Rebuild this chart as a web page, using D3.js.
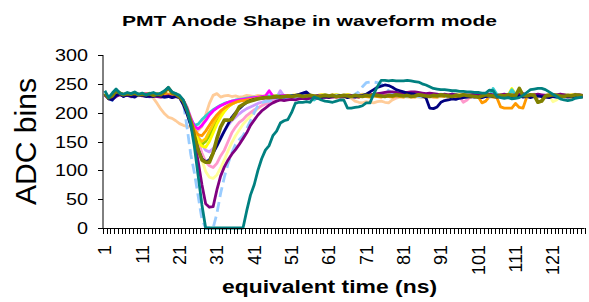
<!DOCTYPE html>
<html>
<head>
<meta charset="utf-8">
<script src="https://cdn.jsdelivr.net/npm/d3@7"></script>
<style>
body{margin:0;background:#fff;}
#anode-vis{width:589px;height:302px;}
text{font-family:Arial,"Liberation Sans",sans-serif;fill:#000;}
</style>
</head>
<body>
<div id="anode-vis"></div>
<script>
// time bins 1..129 on a category axis
var timeBins = d3.range(1, 130);
var xTickLabels = [1, 11, 21, 31, 41, 51, 61, 71, 81, 91, 101, 111, 121];
var yTicks = [0, 50, 100, 150, 200, 250, 300];

var peachTrace = [232,224,229,238,234,231,233,232,234,231,
 232,230,231,225,216,206,198,192,190,186,
 181,178,176,175,172,169,176,196,216,230,
 233,227,229,230,228,229,227,228,230,229,
 228,230,229,227,228,230,229,228,227,229,
 230,229,228,230,229,227,226,228,229,227,
 228,229,227,228,226,227,225,220,218,217,
 219,218,217,219,220,218,217,222,225,227,
 228,227,226,228,227,226,227,228,226,227,
 228,229,228,227,228,229,230,228,229,230,
 229,228,230,229,228,230,229,228,229,230,
 228,229,230,229,228,230,229,228,230,229,
 228,229,230,228,229,230,229,228,229];

var lightYellowTrace = [233,226,228,237,234,230,232,231,233,230,
 231,232,230,231,229,232,233,230,231,230,
 228,222,210,190,168,145,118,98,88,86,
 92,104,118,134,148,160,170,180,187,194,
 201,207,212,216,219,221,223,224,225,226,
 227,228,227,229,228,229,230,228,229,230,
 229,230,228,229,231,230,229,228,230,231,
 230,229,231,230,229,231,230,229,228,230,
 231,230,229,231,230,229,230,231,229,230,
 231,230,229,231,230,229,230,231,230,229,
 230,231,229,230,231,230,229,230,231,230,
 229,231,230,229,230,231,230,229,230,231,
 219,222,229,230,231,229,230,231,230];

var pinkTrace = [231,225,227,236,233,229,231,230,232,229,
 230,231,229,230,228,231,232,229,230,229,
 226,220,208,190,170,150,130,115,108,105,
 112,125,135,150,165,175,183,188,195,200,
 205,208,212,215,218,220,222,223,224,225,
 226,227,226,228,227,228,229,227,228,229,
 228,229,227,228,230,229,228,227,229,230,
 229,228,230,229,228,230,229,228,227,229,
 230,229,228,230,229,228,229,230,228,229,
 230,229,228,230,229,228,218,222,229,228,
 229,230,228,229,230,229,228,229,230,229,
 228,230,229,228,229,230,229,228,229,230,
 229,228,230,229,228,229,230,229,228];

var lavenderTrace = [232,226,228,236,233,230,232,231,233,230,
 231,230,232,229,231,230,233,231,230,231,
 227,222,210,192,175,160,145,135,132,138,
 148,158,168,178,186,192,198,203,207,210,
 213,216,218,220,222,224,226,238,229,226,
 227,228,229,227,228,229,230,228,229,230,
 229,230,228,229,230,231,229,230,231,232,
 231,230,232,231,230,232,231,230,229,231,
 232,231,230,232,231,230,231,232,230,231,
 232,231,230,232,231,230,231,232,231,230,
 231,232,230,231,232,231,230,231,232,231,
 230,232,231,230,231,232,231,230,231,232,
 231,230,232,231,230,231,232,231,230];

var limeTrace = [233,225,227,237,234,231,233,232,234,231,
 232,231,233,230,232,231,234,232,231,232,
 226,218,204,185,165,150,145,150,160,172,
 185,195,203,210,215,218,220,222,223,224,
 225,226,227,228,227,228,229,228,229,230,
 229,230,228,229,230,229,228,229,230,231,
 230,229,231,230,229,231,230,229,228,230,
 231,230,229,231,230,229,230,231,229,230,
 231,230,229,231,230,229,230,231,230,229,
 230,231,229,230,231,230,229,230,231,230,
 229,231,230,229,230,231,230,229,230,231,
 230,229,231,230,229,231,218,221,229,230,
 231,230,229,231,230,229,230,231,230];

var goldTrace = [231,224,228,238,233,230,232,231,233,231,
 230,232,231,229,232,230,233,231,232,230,
 227,220,206,188,170,156,150,155,168,180,
 192,200,207,212,216,219,221,222,224,225,
 226,227,228,227,228,229,228,229,230,229,
 230,229,230,228,229,230,229,230,231,230,
 229,231,230,229,230,231,230,229,230,231,
 230,229,231,230,229,231,230,229,230,231,
 230,229,231,230,229,231,230,229,230,231,
 230,229,231,230,229,231,230,229,230,231,
 230,229,231,230,229,231,230,229,230,231,
 230,229,231,230,229,231,230,229,230,231,
 230,229,231,230,229,231,230,229,230];

var yellowTrace = [232,225,229,239,234,231,233,232,234,232,
 231,233,232,230,233,231,234,232,233,231,
 228,221,207,188,168,150,142,140,150,165,
 180,192,202,210,215,218,221,223,224,225,
 226,227,228,229,228,229,230,229,230,229,
 230,231,229,230,231,230,229,230,231,230,
 229,230,231,230,229,231,230,229,230,231,
 230,231,229,230,231,230,229,230,231,230,
 229,230,231,230,229,231,230,229,230,231,
 230,229,231,230,229,231,230,229,230,231,
 230,229,231,230,229,231,230,229,230,242,
 232,229,231,230,229,231,230,229,230,231,
 230,229,231,230,229,231,230,229,230];

var cyanTrace = [232,226,229,237,233,231,232,231,233,230,
 231,232,230,231,229,232,233,230,231,230,
 227,220,205,188,178,180,188,194,200,205,
 209,213,216,218,220,222,223,224,225,226,
 227,226,228,227,229,228,229,230,229,228,
 230,229,228,230,229,228,222,226,229,230,
 229,228,230,229,228,230,229,228,230,229,
 228,230,229,228,230,229,228,230,229,228,
 230,229,228,230,229,228,230,229,228,230,
 229,228,230,229,228,230,229,228,230,229,
 228,230,229,228,242,232,229,230,229,240,
 231,229,230,229,228,230,229,228,230,229,
 228,230,229,228,230,229,228,230,229];

var magentaTrace = [231,225,228,237,233,230,232,231,233,230,
 231,233,231,230,232,231,234,231,232,231,
 227,221,208,190,176,172,178,186,196,203,
 208,212,215,218,220,221,222,223,224,225,
 226,227,228,229,238,229,228,229,230,229,
 228,230,229,228,230,229,228,230,229,228,
 230,229,228,230,229,228,230,229,228,230,
 229,228,230,229,228,230,229,228,230,229,
 228,230,229,228,230,229,228,230,229,228,
 230,229,228,230,229,228,230,229,228,230,
 229,228,230,229,228,230,229,228,230,229,
 228,230,229,228,230,229,228,230,229,228,
 230,229,228,230,229,228,230,229,228];

var orangeTrace = [232,225,228,237,233,231,232,231,233,231,
 232,230,232,231,230,232,233,231,232,230,
 227,219,204,186,170,162,160,168,178,188,
 196,203,208,212,215,218,220,221,222,223,
 224,225,226,227,226,227,228,227,228,229,
 228,229,228,227,229,228,227,229,228,227,
 229,228,227,229,228,227,229,228,227,229,
 228,227,229,228,227,229,228,227,229,228,
 227,229,228,227,229,228,227,229,228,227,
 229,228,227,229,228,227,229,228,227,229,
 228,217,220,228,227,226,210,208,208,208,
 216,209,208,227,229,228,227,229,228,227,
 229,228,227,229,228,227,229,228,227];

var lightBlueTrace = [231,225,221,229,232,228,230,227,228,230,
 228,229,227,228,229,228,226,228,227,228,
 226,218,175,128,95,55,15,0,0,0,
 25,60,88,112,130,145,153,160,172,186,
 200,212,217,219,220,222,223,224,225,224,
 225,226,227,226,228,227,229,228,227,228,
 229,228,230,228,229,230,229,232,236,245,
 252,253,253,252,250,244,238,234,232,230,
 229,228,230,229,228,227,229,228,230,229,
 228,227,229,228,230,229,228,227,229,228,
 230,229,228,227,229,228,230,229,228,227,
 229,228,230,229,228,227,229,228,230,229,
 228,227,229,228,230,229,228,227,229];

var purpleTrace = [230,226,223,228,231,229,230,228,229,232,
 229,229,228,229,228,227,228,229,227,228,
 227,220,205,180,150,115,75,42,36,37,
 66,90,106,118,128,136,145,155,165,178,
 187,196,203,208,213,217,220,222,221,222,
 223,222,224,225,224,225,226,225,226,227,
 226,227,228,227,228,229,230,228,227,229,
 230,231,232,233,234,235,236,236,235,234,
 234,235,236,236,235,234,233,234,233,232,
 231,232,231,232,231,230,231,230,231,232,
 231,230,231,232,231,230,231,232,231,230,
 231,232,233,231,230,231,232,231,230,229,
 230,231,232,231,230,229,230,231,230];

var navyTrace = [232,224,222,230,233,228,231,229,227,231,
 230,228,229,228,230,229,227,228,226,228,
 226,214,198,178,158,136,120,115,118,130,
 142,155,168,180,192,200,207,213,218,221,
 223,224,225,226,226,227,227,228,227,228,
 229,230,232,234,236,230,228,229,227,228,
 227,229,228,230,229,226,228,227,229,230,
 232,236,240,244,246,248,247,244,240,238,
 236,234,233,232,230,229,226,208,207,210,
 218,221,222,224,223,225,226,227,228,227,
 228,226,228,229,228,227,228,229,228,227,
 228,229,227,228,226,228,229,228,227,226,
 228,227,229,228,227,228,226,227,228];

var oliveTrace = [233,226,229,238,234,231,233,232,234,231,
 232,231,233,230,232,231,236,243,234,232,
 227,220,205,185,160,135,118,114,114,130,
 155,175,187,187,188,198,210,214,218,220,
 222,224,225,226,226,227,228,227,228,229,
 228,229,230,228,229,230,229,228,229,230,
 229,230,228,229,230,229,228,230,229,228,
 230,229,231,230,229,228,230,229,231,230,
 229,230,228,229,231,230,229,228,230,229,
 231,230,229,228,230,229,231,230,229,228,
 227,229,231,230,229,228,230,229,231,230,
 229,242,230,229,231,230,218,220,229,230,
 231,230,229,228,230,229,231,230,229];

var tealTrace = [238,226,234,241,234,232,235,233,236,232,
 234,231,233,235,232,234,238,244,236,233,
 230,222,205,180,140,90,40,0,0,0,
 0,0,0,0,0,0,0,0,30,57,
 75,100,120,135,143,160,168,182,186,188,
 200,216,218,218,219,218,227,225,222,220,
 219,218,220,222,222,208,208,209,210,212,
 217,217,232,245,256,256,255,256,255,255,
 255,256,255,254,253,250,248,245,242,241,
 240,240,239,238,238,237,237,236,236,235,
 235,234,234,239,238,228,226,225,226,224,
 225,226,230,235,240,241,242,242,240,236,
 232,228,224,222,221,222,225,226,227];

// drawing order = excel series order, last on top
var traces = [peachTrace, lightYellowTrace, pinkTrace, lavenderTrace, limeTrace, goldTrace,
  yellowTrace, cyanTrace, magentaTrace, orangeTrace, lightBlueTrace, purpleTrace, navyTrace,
  oliveTrace, tealTrace];
var traceColors = ["#FFCC99", "#FFFF99", "#FF99CC", "#CC99FF", "#99CC00", "#FFCC00",
  "#FFFF00", "#33CCCC", "#FF00FF", "#FF9900", "#99CCFF", "#800080", "#000080",
  "#808000", "#008080"];

AnodeVis = function(_parentElement, _traces) {
  this.traces = _traces;
  this.settings = {
    parentElement: _parentElement,
    plot: {left: 103, right: 584.6, top: 55, bottom: 228},
    tickLength: 5,
    lineWidth: 2.8
  };
  this.initVis();
}

AnodeVis.prototype.initVis = function() {
  var vis = this;
  var p = vis.settings.plot;

  vis.svg = d3.select("#" + vis.settings.parentElement).append("svg")
    .attr("width", 589)
    .attr("height", 302);

  vis.x = d3.scalePoint().domain(timeBins).range([p.left, p.right]).padding(0.5);
  vis.y = d3.scaleLinear().domain([0, 300]).range([p.bottom, p.top]);

  vis.glines = vis.svg.append("g");
  vis.gaxes = vis.svg.append("g");

  vis.svg.append("text")
    .attr("x", 122).attr("y", 26)
    .attr("textLength", 375).attr("lengthAdjust", "spacingAndGlyphs")
    .style("font-size", "15px").style("font-weight", "bold")
    .text("PMT Anode Shape in waveform mode");

  vis.svg.append("text")
    .attr("x", 222).attr("y", 293)
    .attr("textLength", 215).attr("lengthAdjust", "spacingAndGlyphs")
    .style("font-size", "18px").style("font-weight", "bold")
    .text("equivalent time (ns)");

  vis.svg.append("text")
    .attr("transform", "translate(36,141.5) rotate(-90)")
    .attr("text-anchor", "middle")
    .attr("textLength", 127).attr("lengthAdjust", "spacingAndGlyphs")
    .style("font-size", "29px")
    .text("ADC bins");

  vis.updateVis();
}

AnodeVis.prototype.updateVis = function() {
  var vis = this;
  var p = vis.settings.plot;
  var step = vis.x.step();

  var line = d3.line()
    .x(function(d, i) { return vis.x(timeBins[i]); })
    .y(function(d) { return vis.y(d); });

  vis.glines.selectAll(".trace").data(vis.traces).enter()
    .append("path").attr("class", "trace")
    .attr("d", line)
    .style("fill", "none")
    .style("stroke", function(d, i) { return traceColors[i]; })
    .style("stroke-width", function(d, i) { return traceColors[i] == "#808000" ? 3.6 : vis.settings.lineWidth; })
    .style("stroke-dasharray", function(d, i) { return traceColors[i] == "#99CCFF" ? "10,5" : null; })
    .style("stroke-linejoin", "round");

  // y axis
  vis.gaxes.append("line")
    .attr("x1", p.left).attr("x2", p.left).attr("y1", p.top).attr("y2", p.bottom)
    .style("stroke", "#000");
  vis.gaxes.selectAll(".ytick").data(yTicks).enter()
    .append("line").attr("class", "ytick")
    .attr("x1", p.left - vis.settings.tickLength).attr("x2", p.left)
    .attr("y1", function(d) { return Math.round(vis.y(d)) + 0.5; })
    .attr("y2", function(d) { return Math.round(vis.y(d)) + 0.5; })
    .style("stroke", "#000");
  vis.gaxes.selectAll(".ylabel").data(yTicks).enter()
    .append("text").attr("class", "ylabel")
    .attr("x", 88).attr("y", function(d) { return vis.y(d); })
    .attr("dy", "0.36em")
    .attr("text-anchor", "end")
    .attr("textLength", function(d) { return String(d).length * 11; })
    .attr("lengthAdjust", "spacingAndGlyphs")
    .style("font-size", "17px")
    .text(function(d) { return d; });

  // x axis, ticks between categories
  vis.gaxes.append("line")
    .attr("x1", p.left).attr("x2", p.right).attr("y1", p.bottom + 0.5).attr("y2", p.bottom + 0.5)
    .style("stroke", "#000");
  var edges = timeBins.map(function(t) { return vis.x(t) - step / 2; }).concat([p.right]);
  vis.gaxes.selectAll(".xtick").data(edges).enter()
    .append("line").attr("class", "xtick")
    .attr("x1", function(d) { return Math.round(d) + 0.5; })
    .attr("x2", function(d) { return Math.round(d) + 0.5; })
    .attr("y1", p.bottom).attr("y2", p.bottom + vis.settings.tickLength + 1)
    .style("stroke", "#000");
  vis.gaxes.selectAll(".xlabel").data(xTickLabels).enter()
    .append("text").attr("class", "xlabel")
    .attr("transform", function(d) { return "translate(" + vis.x(d) + ",245) rotate(-90)"; })
    .attr("dy", "0.36em")
    .attr("text-anchor", "end")
    .style("font-size", "18px")
    .text(function(d) { return d; });
}

var anodeVis = new AnodeVis("anode-vis", traces);
</script>
</body>
</html>
